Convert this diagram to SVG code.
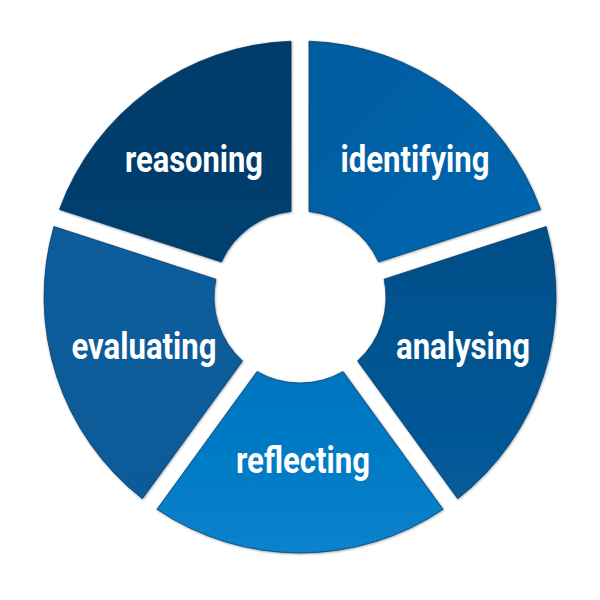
<svg xmlns="http://www.w3.org/2000/svg" width="600" height="600" viewBox="0 0 600 600">
<style>
.seg{stroke:#06335c;stroke-width:1;stroke-opacity:0.7;filter:url(#sh)}
.lbl{font-family:Roboto,"Liberation Sans",sans-serif;font-weight:700;font-size:37px;fill:#ffffff;text-anchor:middle}
</style>
<defs>
<filter id="sh" x="-10%" y="-10%" width="120%" height="120%">
<feDropShadow dx="0.6" dy="0.8" stdDeviation="0.8" flood-color="#002040" flood-opacity="0.45"/>
</filter>
<linearGradient id="g0" x1="0" y1="0" x2="1" y2="1"><stop offset="0" stop-color="#035c9f"/><stop offset="1" stop-color="#0567b0"/></linearGradient>
<linearGradient id="g1" x1="0" y1="0" x2="0" y2="1"><stop offset="0" stop-color="#024e88"/><stop offset="1" stop-color="#075b9b"/></linearGradient>
<linearGradient id="g2" x1="0" y1="0" x2="0" y2="1"><stop offset="0" stop-color="#0574bf"/><stop offset="1" stop-color="#0782cc"/></linearGradient>
<linearGradient id="g3" x1="0" y1="0" x2="0" y2="1"><stop offset="0" stop-color="#0a5d9c"/><stop offset="1" stop-color="#095a98"/></linearGradient>
<linearGradient id="g4" x1="0" y1="0" x2="0" y2="1"><stop offset="0" stop-color="#033b69"/><stop offset="1" stop-color="#04406f"/></linearGradient>
</defs>
<g id="identifying">
<path class="seg" fill="url(#g0)" d="M309,41.16 A256,256 0 0 1 540.54,209.38 L378.56,262.01 A86,86 0 0 0 309,211.47 Z"/>
<text class="lbl" x="415" y="172" textLength="149" lengthAdjust="spacingAndGlyphs">identifying</text>
</g>
<g id="analysing">
<path class="seg" fill="url(#g1)" d="M546.11,226.50 A256,256 0 0 1 457.66,498.69 L357.55,360.90 A86,86 0 0 0 384.12,279.13 Z"/>
<text class="lbl" x="463" y="359" textLength="134" lengthAdjust="spacingAndGlyphs">analysing</text>
</g>
<g id="reflecting">
<path class="seg" fill="url(#g2)" d="M443.10,509.27 A256,256 0 0 1 156.90,509.27 L257.01,371.48 A86,86 0 0 0 342.99,371.48 Z"/>
<text class="lbl" x="303" y="473" textLength="134" lengthAdjust="spacingAndGlyphs">reflecting</text>
</g>
<g id="evaluating">
<path class="seg" fill="url(#g3)" d="M142.34,498.69 A256,256 0 0 1 53.90,226.50 L215.88,279.13 A86,86 0 0 0 242.45,360.90 Z"/>
<text class="lbl" x="144" y="359" textLength="145" lengthAdjust="spacingAndGlyphs">evaluating</text>
</g>
<g id="reasoning">
<path class="seg" fill="url(#g4)" d="M59.46,209.38 A256,256 0 0 1 291,41.16 L291,211.47 A86,86 0 0 0 221.44,262.01 Z"/>
<text class="lbl" x="194" y="172" textLength="138" lengthAdjust="spacingAndGlyphs">reasoning</text>
</g>
<g id="connectors"/>
</svg>
